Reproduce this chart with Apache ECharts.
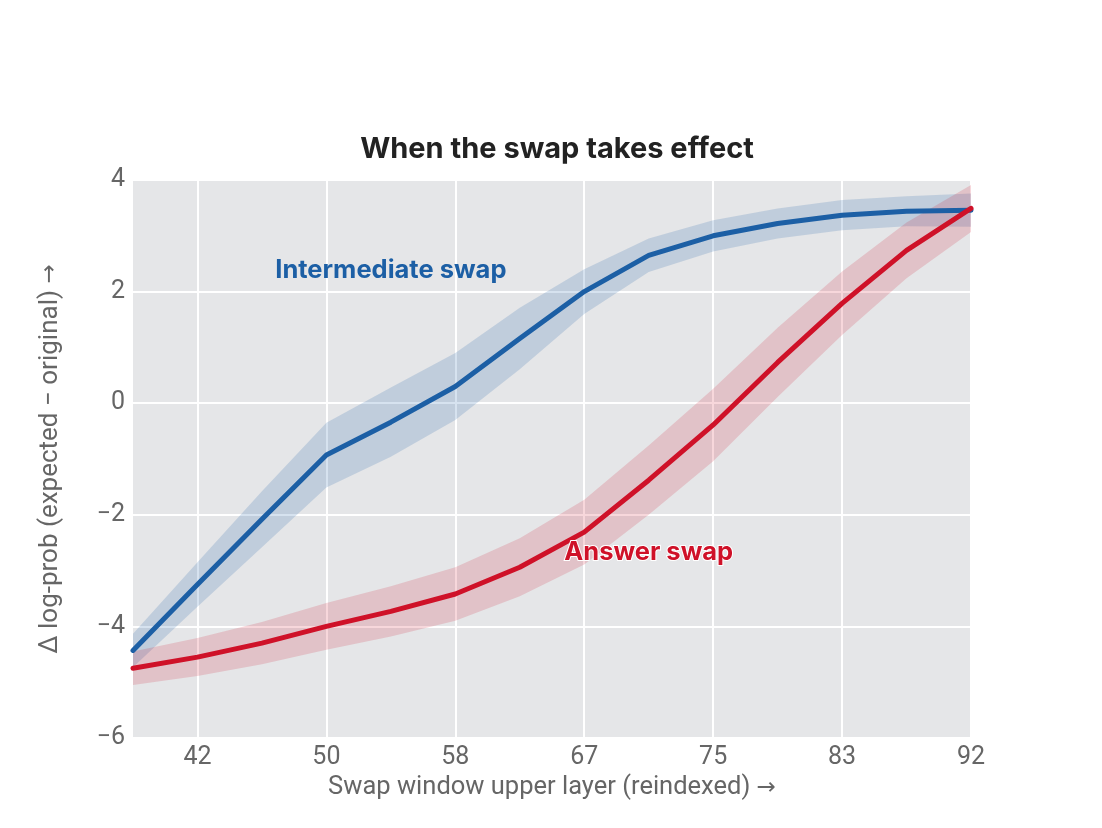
<!DOCTYPE html>
<html>
<head>
<meta charset="utf-8">
<script src="https://cdn.jsdelivr.net/npm/echarts@6/dist/echarts.min.js"></script>
<style>
html,body{margin:0;padding:0;background:#fff;}
#chart{width:1102px;height:828px;}
</style>
</head>
<body>
<div id="chart"></div>
<script>
// Data
var layers = ['38','42','46','50','54','58','62','67','71','75','79','83','87','92'];
var intermediateMean = [-4.43,-3.25,-2.08,-0.93,-0.34,0.30,1.16,2.00,2.65,3.00,3.22,3.37,3.44,3.46];
var intermediateHalf = [0.30,0.40,0.50,0.58,0.62,0.60,0.55,0.40,0.30,0.28,0.27,0.27,0.27,0.30];
var answerMean = [-4.75,-4.55,-4.30,-4.00,-3.73,-3.42,-2.94,-2.31,-1.38,-0.39,0.73,1.79,2.74,3.49];
var answerHalf = [0.30,0.34,0.38,0.42,0.45,0.48,0.52,0.58,0.62,0.65,0.62,0.57,0.50,0.42];
var yTicks = [-6,-4,-2,0,2,4];

var BLUE = '#1c5fa5';
var RED = '#cf1128';
var fontMain = 'Inter';
var fontAxis = 'Roboto';

function lower(m, h){ return m.map(function(v,i){ return +(v - h[i]).toFixed(3); }); }
function width(h){ return h.map(function(v){ return +(2*v).toFixed(3); }); }
function showOdd(idx){ return idx % 2 === 1; }

var arrowRich = {arr: {fontFamily: '"DejaVu Sans"', fontSize: 23, color: '#666666'}};

var chart = echarts.init(document.getElementById('chart'), null, {renderer:'canvas'});
var option = {
  backgroundColor: '#ffffff',
  animation: false,
  title: {
    text: 'When the swap takes effect',
    left: 552, top: 130, textAlign: 'center',
    textStyle: {fontFamily: fontMain, fontSize: 29, fontWeight: 'bold', color: '#222222'}
  },
  grid: {left: 133, right: 131, top: 180, bottom: 90, show: true, backgroundColor: '#e5e6e8', borderWidth: 0},
  xAxis: {
    type: 'category',
    data: layers,
    boundaryGap: false,
    name: 'Swap window upper layer (reindexed) {arr|→}',
    nameLocation: 'middle',
    nameGap: 35,
    nameTextStyle: {fontFamily: fontAxis, fontSize: 25.5, color: '#666666', rich: arrowRich},
    axisLine: {show: false},
    axisTick: {show: false},
    axisLabel: {interval: showOdd, fontFamily: fontAxis, fontSize: 25, color: '#666666', margin: 7},
    splitLine: {show: true, interval: showOdd, lineStyle: {color: '#ffffff', width: 2}}
  },
  yAxis: {
    type: 'value',
    min: yTicks[0], max: yTicks[yTicks.length - 1], interval: 2,
    name: 'Δ log-prob (expected − original) {arr|→}',
    nameLocation: 'middle',
    nameGap: 70,
    nameTextStyle: {fontFamily: fontAxis, fontSize: 26, color: '#666666', rich: arrowRich},
    axisLine: {show: false},
    axisTick: {show: false},
    axisLabel: {fontFamily: fontAxis, fontSize: 25, color: '#666666', margin: 8,
      formatter: function(v){ return v < 0 ? '\u2212' + Math.abs(v) : String(v); }},
    splitLine: {show: true, lineStyle: {color: '#ffffff', width: 2}}
  },
  series: [
    {type:'line', data: lower(intermediateMean, intermediateHalf), stack:'blueBand', stackStrategy:'all',
     symbol:'none', lineStyle:{opacity:0}, silent:true, z:1},
    {type:'line', data: width(intermediateHalf), stack:'blueBand', stackStrategy:'all',
     symbol:'none', lineStyle:{opacity:0}, areaStyle:{color: BLUE, opacity: 0.18}, silent:true, z:1},
    {type:'line', data: lower(answerMean, answerHalf), stack:'redBand', stackStrategy:'all',
     symbol:'none', lineStyle:{opacity:0}, silent:true, z:2},
    {type:'line', data: width(answerHalf), stack:'redBand', stackStrategy:'all',
     symbol:'none', lineStyle:{opacity:0}, areaStyle:{color: RED, opacity: 0.17}, silent:true, z:2},
    {type:'line', name:'Intermediate swap', data: intermediateMean, symbol:'none', z:3,
     lineStyle:{color: BLUE, width: 5, cap:'round', join:'round'},
     markPoint: {symbol:'circle', symbolSize: 0, silent: true,
       label:{show:true, position:'inside', formatter:'Intermediate swap', color: BLUE,
         fontFamily: fontMain, fontSize: 25.5, fontWeight:'bold'},
       data:[{coord:['54', 2.38]}]}
    },
    {type:'line', name:'Answer swap', data: answerMean, symbol:'none', z:4,
     lineStyle:{color: RED, width: 5, cap:'round', join:'round'},
     markPoint: {symbol:'circle', symbolSize: 0, silent: true,
       label:{show:true, position:'inside', formatter:'Answer swap', color: RED,
         fontFamily: fontMain, fontSize: 25.5, fontWeight:'bold',
         textBorderColor:'#ffffff', textBorderWidth: 2},
       data:[{coord:['71', -2.67]}]}
    }
  ]
};
chart.setOption(option);
</script>
</body>
</html>
